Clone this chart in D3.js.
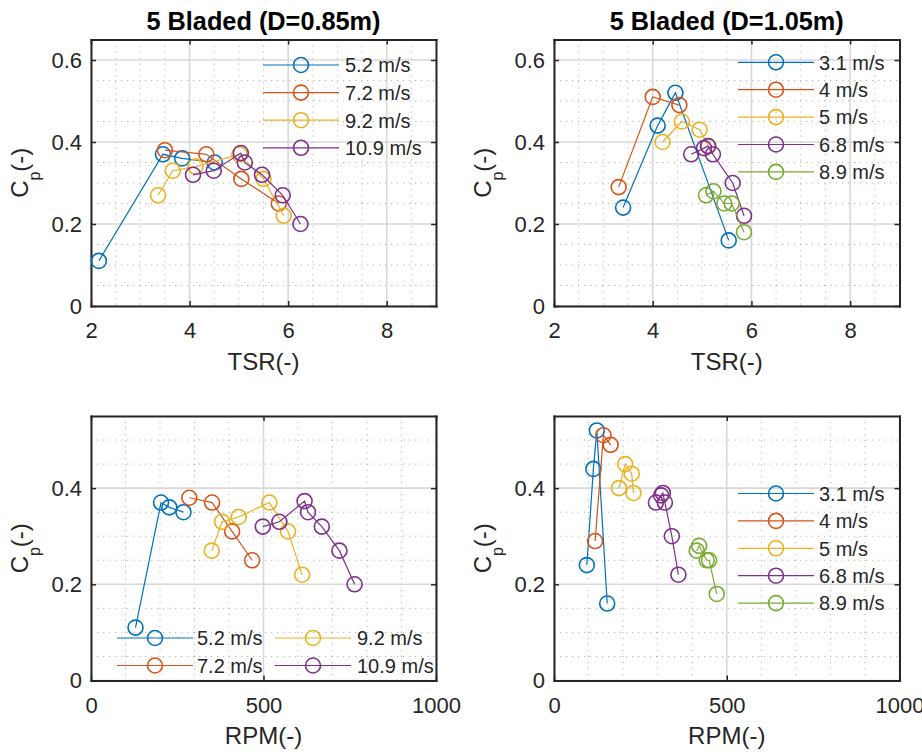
<!DOCTYPE html>
<html>
<head>
<meta charset="utf-8">
<script src="https://cdn.jsdelivr.net/npm/d3@7"></script>
<style>
  html, body { margin: 0; padding: 0; background: #fff; }
  svg { display: block; }
  text { font-family: "Liberation Sans", Arial, Helvetica, sans-serif; fill: #262626; }
</style>
</head>
<body>
<svg id="chart" width="922" height="755"></svg>
<script>
// ---------------- DATA ----------------
const colors = ["#0072BD", "#D95319", "#EDB120", "#7E2F8E", "#77AC30"];

// D = 0.85 m
const titleD085 = "5 Bladed (D=0.85m)";
const speedsD085 = ["5.2 m/s", "7.2 m/s", "9.2 m/s", "10.9 m/s"];
const tsrD085 = [
  [2.16, 3.46, 3.85, 4.51],
  [3.50, 4.34, 5.05, 5.81],
  [3.36, 3.66, 4.12, 5.01, 5.50, 5.91],
  [4.07, 4.49, 5.04, 5.12, 5.47, 5.89, 6.25]
];
const rpmD085 = [
  [129, 203, 227, 268],
  [285, 351, 409, 467],
  [350, 380, 428, 517, 571, 612],
  [498, 546, 619, 629, 669, 720, 764]
];
const cpD085 = [
  [0.11, 0.37, 0.36, 0.35],
  [0.38, 0.37, 0.31, 0.25],
  [0.27, 0.33, 0.34, 0.37, 0.31, 0.22],
  [0.32, 0.33, 0.373, 0.35, 0.32, 0.27, 0.20]
];

// D = 1.05 m
const titleD105 = "5 Bladed (D=1.05m)";
const speedsD105 = ["3.1 m/s", "4 m/s", "5 m/s", "6.8 m/s", "8.9 m/s"];
const tsrD105 = [
  [3.40, 4.10, 4.46, 5.54],
  [3.31, 4.00, 4.54],
  [4.20, 4.59, 4.95, 5.13],
  [4.78, 5.04, 5.12, 5.22, 5.62, 5.85],
  [5.08, 5.23, 5.45, 5.60, 5.85]
];
const rpmD105 = [
  [95, 114, 124, 154],
  [119, 143, 164],
  [188, 206, 225, 230],
  [295, 310, 315, 321, 341, 360],
  [413, 420, 442, 449, 471]
];
const cpD105 = [
  [0.24, 0.44, 0.52, 0.16],
  [0.29, 0.51, 0.49],
  [0.40, 0.45, 0.43, 0.39],
  [0.37, 0.385, 0.39, 0.37, 0.30, 0.22],
  [0.27, 0.28, 0.25, 0.25, 0.18]
];

// Axis ticks
const tsrTicks = [2, 4, 6, 8];
const rpmTicks = [0, 500, 1000];
const cpTicksTop = [0, 0.2, 0.4, 0.6];
const cpTicksBottom = [0, 0.2, 0.4];
const xLabelTSR = "TSR(-)";
const xLabelRPM = "RPM(-)";

// ---------------- DRAW ----------------
const svg = d3.select("#chart");
svg.append("rect").attr("width", 922).attr("height", 755).attr("fill", "#fff");

const AX = "#262626";
const FONT = '"Liberation Sans", Arial, Helvetica, sans-serif';
const fmt = v => String(+v.toFixed(2));

function panel(opt) {
  const x = d3.scaleLinear().domain(opt.xDomain).range([opt.left, opt.right]);
  const y = d3.scaleLinear().domain(opt.yDomain).range([opt.bottom, opt.top]);
  const g = svg.append("g");

  // minor grid
  const xMinor = d3.range(opt.xDomain[0], opt.xDomain[1] + 1e-9, opt.xMinorStep)
    .filter(v => !opt.xTicks.some(t => Math.abs(t - v) < 1e-9));
  const yMinor = d3.range(opt.yDomain[0], opt.yDomain[1] + 1e-9, opt.yMinorStep)
    .filter(v => !opt.yTicks.some(t => Math.abs(t - v) < 1e-9));
  const minor = g.append("g").attr("stroke", "#b4b4b4").attr("stroke-width", 1)
    .attr("stroke-dasharray", "1.2,4.8");
  minor.selectAll("line.vx").data(xMinor).join("line")
    .attr("x1", d => x(d)).attr("x2", d => x(d))
    .attr("y1", opt.top).attr("y2", opt.bottom);
  minor.selectAll("line.hy").data(yMinor).join("line")
    .attr("y1", d => y(d)).attr("y2", d => y(d))
    .attr("x1", opt.left).attr("x2", opt.right);

  // major grid
  const major = g.append("g").attr("stroke", "#d8d8d8").attr("stroke-width", 1.6);
  major.selectAll("line.vx").data(opt.xTicks).join("line")
    .attr("x1", d => x(d)).attr("x2", d => x(d))
    .attr("y1", opt.top).attr("y2", opt.bottom);
  major.selectAll("line.hy").data(opt.yTicks).join("line")
    .attr("y1", d => y(d)).attr("y2", d => y(d))
    .attr("x1", opt.left).attr("x2", opt.right);

  // axes
  const styleAxis = sel => {
    sel.attr("font-family", FONT);
    sel.select(".domain").attr("stroke", AX).attr("stroke-width", 2);
    sel.selectAll(".tick line").attr("stroke", AX).attr("stroke-width", 1.5);
    sel.selectAll(".tick text").attr("font-size", 22).attr("fill", AX)
      .style("font-family", FONT);
  };
  g.append("g").attr("transform", `translate(0,${opt.bottom})`)
    .call(d3.axisBottom(x).tickValues(opt.xTicks).tickFormat(fmt).tickSize(-5).tickSizeOuter(0).tickPadding(16.5))
    .call(styleAxis);
  g.append("g").attr("transform", `translate(0,${opt.top})`)
    .call(d3.axisTop(x).tickValues(opt.xTicks).tickFormat("").tickSize(-5).tickSizeOuter(0))
    .call(styleAxis);
  g.append("g").attr("transform", `translate(${opt.left},0)`)
    .call(d3.axisLeft(y).tickValues(opt.yTicks).tickFormat(fmt).tickSize(-5).tickSizeOuter(0).tickPadding(9))
    .call(styleAxis);
  g.append("g").attr("transform", `translate(${opt.right},0)`)
    .call(d3.axisRight(y).tickValues(opt.yTicks).tickFormat("").tickSize(-5).tickSizeOuter(0))
    .call(styleAxis);
  g.selectAll(".domain").attr("stroke-linecap", "square");

  // data
  const line = d3.line().x(d => x(d[0])).y(d => y(d[1]));
  opt.xs.forEach((xs, i) => {
    const pts = xs.map((v, j) => [v, opt.ys[i][j]]);
    const sg = g.append("g");
    sg.append("path").attr("d", line(pts)).attr("fill", "none")
      .attr("stroke", colors[i]).attr("stroke-width", 1.2);
    sg.selectAll("circle").data(pts).join("circle")
      .attr("cx", d => x(d[0])).attr("cy", d => y(d[1])).attr("r", 7.5)
      .attr("fill", "none").attr("stroke", colors[i]).attr("stroke-width", 1.6);
  });

  // legend
  const lg = g.append("g");
  opt.legendPos.forEach((p, i) => {
    const it = lg.append("g").attr("transform", `translate(${p[0]},${p[1]})`);
    it.append("line").attr("x1", 0).attr("x2", 76).attr("y1", 0).attr("y2", 0)
      .attr("stroke", colors[i]).attr("stroke-width", 1.2);
    it.append("circle").attr("cx", 38).attr("cy", 0).attr("r", 7.5)
      .attr("fill", "none").attr("stroke", colors[i]).attr("stroke-width", 1.6);
    it.append("text").attr("x", opt.legendTextGap[i]).attr("y", 7.3)
      .attr("font-size", 20).text(opt.names[i]);
  });

  // x label
  g.append("text").attr("x", (opt.left + opt.right) / 2).attr("y", opt.bottom + 63.5)
    .attr("text-anchor", "middle").attr("font-size", 24).text(opt.xLabel);

  // y label C_p(-)
  const cy = (opt.top + opt.bottom) / 2;
  const yl = g.append("text")
    .attr("transform", `translate(${opt.left - 63},${cy}) rotate(-90)`)
    .attr("text-anchor", "middle").attr("font-size", 24);
  yl.append("tspan").text("C");
  yl.append("tspan").attr("font-size", 16).attr("dy", 12).text("p");
  yl.append("tspan").attr("dy", -12).text("(-)");

  // title
  if (opt.title) {
    g.append("text").attr("x", (opt.left + opt.right) / 2).attr("y", 29.5)
      .attr("text-anchor", "middle").attr("font-size", 25.3).attr("font-weight", "bold")
      .style("fill", "#000").text(opt.title);
  }
}

const col = [ {left: 91, right: 436}, {left: 554, right: 899.5} ];
const rowTop = {top: 39.5, bottom: 306};
const rowBot = {top: 416, bottom: 680.5};

panel({ ...col[0], ...rowTop, xDomain: [2, 9], yDomain: [0, 0.65],
  xTicks: tsrTicks, yTicks: cpTicksTop, xMinorStep: 0.5, yMinorStep: 0.05,
  xs: tsrD085, ys: cpD085, names: speedsD085, xLabel: xLabelTSR, title: titleD085,
  legendPos: speedsD085.map((s, i) => [263, 65 + i * 27.6]),
  legendTextGap: speedsD085.map(() => 82) });

panel({ ...col[1], ...rowTop, xDomain: [2, 9], yDomain: [0, 0.65],
  xTicks: tsrTicks, yTicks: cpTicksTop, xMinorStep: 0.5, yMinorStep: 0.05,
  xs: tsrD105, ys: cpD105, names: speedsD105, xLabel: xLabelTSR, title: titleD105,
  legendPos: speedsD105.map((s, i) => [738, 62.3 + i * 27.4]),
  legendTextGap: speedsD105.map(() => 81) });

panel({ ...col[0], ...rowBot, xDomain: [0, 1000], yDomain: [0, 0.55],
  xTicks: rpmTicks, yTicks: cpTicksBottom, xMinorStep: 100, yMinorStep: 0.05,
  xs: rpmD085, ys: cpD085, names: speedsD085, xLabel: xLabelRPM, title: null,
  legendPos: [[117, 638], [117, 665.5], [275, 638], [275, 665.5]],
  legendTextGap: [80, 80, 82, 82] });

panel({ ...col[1], ...rowBot, xDomain: [0, 1000], yDomain: [0, 0.55],
  xTicks: rpmTicks, yTicks: cpTicksBottom, xMinorStep: 100, yMinorStep: 0.05,
  xs: rpmD105, ys: cpD105, names: speedsD105, xLabel: xLabelRPM, title: null,
  legendPos: speedsD105.map((s, i) => [738, 493.5 + i * 27.4]),
  legendTextGap: speedsD105.map(() => 81) });
</script>
</body>
</html>
